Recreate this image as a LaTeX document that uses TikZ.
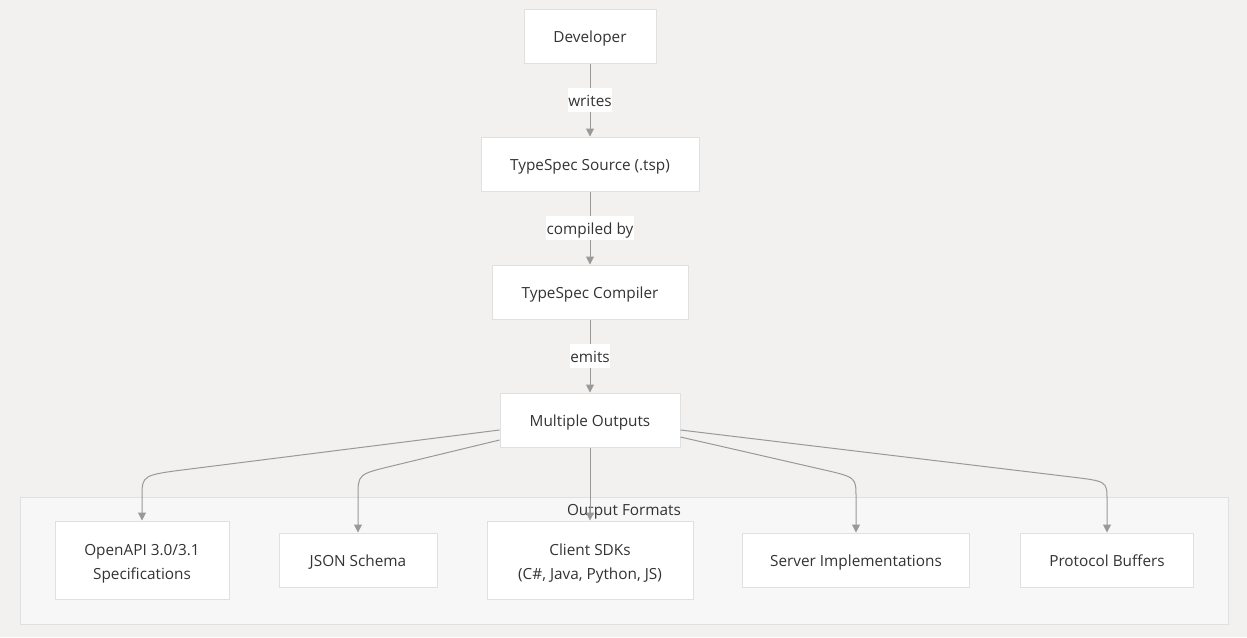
\documentclass[tikz,border=0pt]{standalone}
\usepackage{fontspec}
\setmainfont{Open Sans}
\usetikzlibrary{arrows.meta, positioning, backgrounds}
\definecolor{canvasbg}{RGB}{242,241,239}
\definecolor{clusterfill}{RGB}{247,247,247}
\definecolor{boxborder}{RGB}{224,224,224}
\definecolor{edgegray}{RGB}{153,153,153}
\definecolor{textdark}{RGB}{51,51,51}
\tikzset{
    flowbox/.style={rectangle, fill=white, draw=boxborder, line width=0.75pt, minimum height=40.5pt, text=textdark, font=\fontsize{11.5}{18}\selectfont, align=center, text height=12pt, text depth=3pt},
    twoline/.style={minimum height=58.5pt, text height=31.5pt, text depth=3pt},
    clusterbox/.style={rectangle, fill=clusterfill, draw=boxborder, line width=0.75pt},
    edgelbl/.style={fill=white, text=textdark, font=\fontsize{11.5}{18}\selectfont, inner xsep=0.5pt, inner ysep=1.5pt, text height=12pt, text depth=3pt},
    arrow/.style={-{Triangle[length=6pt, width=6pt]}, edgegray, line width=0.75pt},
}

\begin{document}
\begin{tikzpicture}[
    x=0.75pt, y=-0.75pt,
    node distance=54.75pt,
    title/.style={text=textdark, font=\fontsize{11.5}{18}\selectfont, inner sep=0pt, text height=12pt, text depth=3pt}
]

% Canvas
\fill[canvasbg] (0,0) rectangle (1247,637);
\useasboundingbox (0,0) rectangle (1247,637);

% Output formats cluster
\node[clusterbox, minimum width=906pt, minimum height=95.25pt] (formats) at (624,560.5) {};
\node[title] (formats-title) at (624,509) {Output Formats};

% Main chain
\node[flowbox, minimum width=99pt] (developer) at (590,36) {Developer};
\node[flowbox, minimum width=163.5pt, below=of developer] (source) {TypeSpec Source (.tsp)};
\node[flowbox, minimum width=147pt, below=of source] (compiler) {TypeSpec Compiler};
\node[flowbox, minimum width=135pt, below=of compiler] (outputs) {Multiple Outputs};

% Output boxes
\node[flowbox, twoline, minimum width=130.5pt] (openapi) at (142,560) {OpenAPI 3.0/3.1\\Specifications};
\node[flowbox, minimum width=118.5pt] (jsonschema) at (358,560) {JSON Schema};
\node[flowbox, twoline, minimum width=154.5pt] (clientsdk) at (590,560) {Client SDKs\\(C\#, Java, Python, JS)};
\node[flowbox, minimum width=170.25pt] (server) at (856,560) {Server Implementations};
\node[flowbox, minimum width=129.75pt] (protobuf) at (1107,560) {Protocol Buffers};

% Arrows
\draw[arrow] (developer) -- node[edgelbl] {writes} (source);
\draw[arrow] (source) -- node[edgelbl] {compiled by} (compiler);
\draw[arrow] (compiler) -- node[edgelbl] {emits} (outputs);

% Fan-out arrows
\coordinate (oa-start) at ([yshift=-7.5pt]outputs.west);
\coordinate (js-start) at ([yshift=-15pt]outputs.west);
\coordinate (sv-start) at ([yshift=-12.75pt]outputs.east);
\coordinate (pb-start) at ([yshift=-7.5pt]outputs.east);
\draw[arrow] (oa-start) -- (190,469) .. controls (142,475) .. (142,497) -- (openapi.north);
\draw[arrow] (js-start) -- (392,466) .. controls (358,474.2) .. (358,497) -- (jsonschema.north);
\draw[arrow] (outputs) -- (clientsdk);
\draw[arrow] (sv-start) -- (822,469.4) .. controls (856,477.2) .. (856,497) -- (server.north);
\draw[arrow] (pb-start) -- (1070,476.8) .. controls (1107,481.2) .. (1107,500) -- (protobuf.north);

\end{tikzpicture}
\end{document}
